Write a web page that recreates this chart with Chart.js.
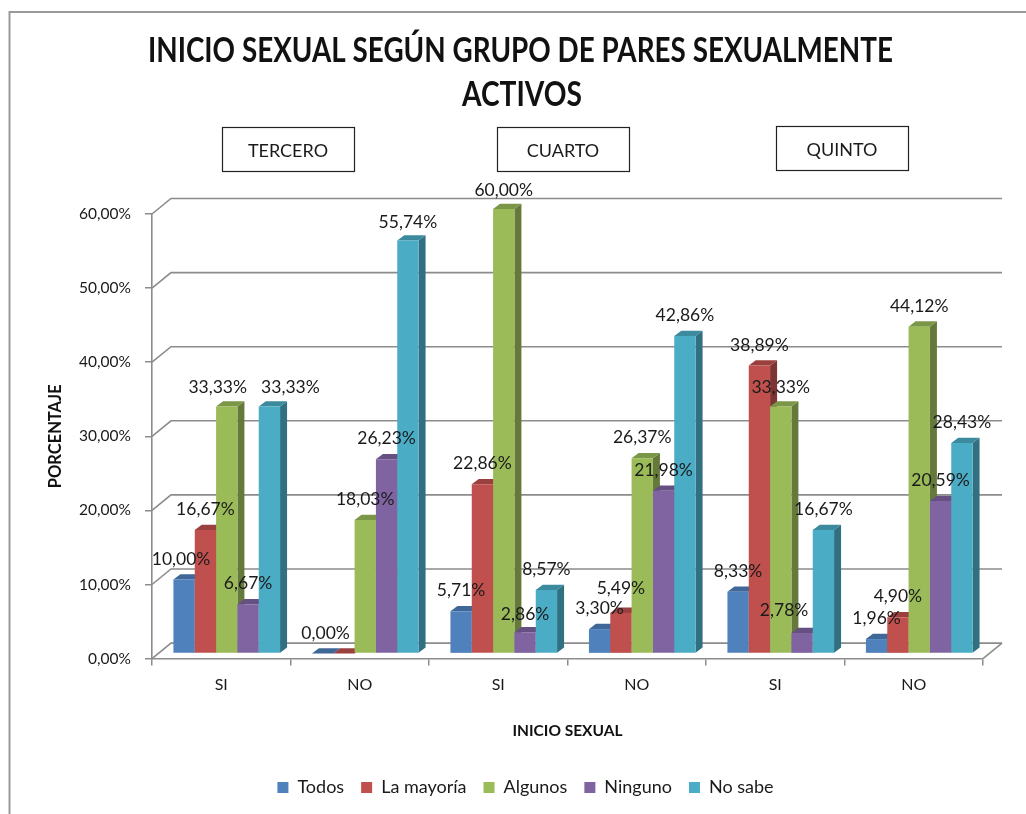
<!DOCTYPE html>
<html lang="es">
<head>
<meta charset="utf-8">
<title>Inicio sexual según grupo de pares sexualmente activos</title>
<style>
html,body{margin:0;padding:0;background:#fff;}
#wrap{position:absolute;left:0;top:0;width:1026px;height:814px;}
canvas{display:block;filter:blur(0.35px);}
</style>
<script src="https://cdn.jsdelivr.net/npm/chart.js@4/dist/chart.umd.min.js"></script>
</head>
<body>
<div id="wrap"><canvas id="c" width="1026" height="814"></canvas></div>
<script>
const categories = ["SI", "NO", "SI", "NO", "SI", "NO"];
const todos     = [10.00, 0.00, 5.71, 3.30, 8.33, 1.96];
const laMayoria = [16.67, 0.00, 22.86, 5.49, 38.89, 4.90];
const algunos   = [33.33, 18.03, 60.00, 26.37, 33.33, 44.12];
const ninguno   = [6.67, 26.23, 2.86, 21.98, 2.78, 20.59];
const noSabe    = [33.33, 55.74, 8.57, 42.86, 16.67, 28.43];
const seriesNames = ["Todos", "La mayoría", "Algunos", "Ninguno", "No sabe"];
const seriesValues = [todos, laMayoria, algunos, ninguno, noSabe];
const seriesColors = ["#4F81BD", "#C0504D", "#9BBB59", "#8064A2", "#4BACC6"];
const gradeLabels = ["TERCERO", "CUARTO", "QUINTO"];
const titleLines = ["INICIO SEXUAL SEGÚN GRUPO DE PARES SEXUALMENTE", "ACTIVOS"];
const xTitle = "INICIO SEXUAL";
const yTitle = "PORCENTAJE";

// Label nudges in px from the default place (series, category, dx, dy)
const labelNudges = [
  [0,0,-3,0],[2,0,-9,1],[4,0,21,1],[0,1,3,0],[3,4,-18,-2],
  [1,3,0,-4],[2,2,0,2],[4,1,0,2],[3,2,0,2],[2,4,0,1]
];

const FONT = "Lato, Carlito, Calibri, sans-serif";
const fmt = v => v.toFixed(2).replace(".", ",") + "%";
const shade = (hex, f) => {
  const n = parseInt(hex.slice(1), 16);
  const c = [n >> 16, (n >> 8) & 255, n & 255].map(x => Math.round(x * f));
  return `rgb(${c[0]},${c[1]},${c[2]})`;
};
const BAR_DX = 5.5, BAR_DY = -5, SIDE_DX = 7, SIDE_DY = 5.3;
const WALL_DX = 19, WALL_DY = -15.5;
const GRID = "#8c8c8c";

const plugin3d = {
  id: "plugin3d",
  afterLayout(chart) {
    chart.legend.left += 34; chart.legend.right += 34;
    const h = chart.legend.height;
    chart.legend.top = 761.4; chart.legend.bottom = 761.4 + h;
  },
  beforeDraw(chart) {
    const ctx = chart.ctx;
    ctx.save();
    // outer frame
    ctx.strokeStyle = "#999"; ctx.lineWidth = 2;
    ctx.beginPath(); ctx.moveTo(1026, 12); ctx.lineTo(9.5, 12); ctx.lineTo(9.5, 814); ctx.stroke();
    // main title, condensed to the reference's width
    ctx.fillStyle = "#111"; ctx.font = "bold 35px " + FONT;
    ctx.textAlign = "center"; ctx.textBaseline = "middle";
    ctx.fillText(titleLines[0], 520.5, 51, 745);
    ctx.fillText(titleLines[1], 522, 95, 120);
    // grade boxes
    const boxes = [[222, 127], [497, 127], [776, 126]];
    gradeLabels.forEach((t, i) => {
      const [x, y] = boxes[i];
      ctx.strokeStyle = "#222"; ctx.lineWidth = 1.2;
      ctx.strokeRect(x + .5, y + .5, 132, 44);
      ctx.fillStyle = "#1a1a1a"; ctx.font = "18px " + FONT;
      ctx.fillText(t, x + 66, y + 24);
    });
    ctx.restore();
  },
  beforeDatasetsDraw(chart) {
    const ctx = chart.ctx, ya = chart.scales.y, a = chart.chartArea;
    ctx.save();
    ctx.strokeStyle = GRID; ctx.lineWidth = 1.6;
    ya.ticks.forEach(t => {
      const y = ya.getPixelForValue(t.value);
      ctx.beginPath();
      ctx.moveTo(a.left, y);
      ctx.lineTo(a.left + WALL_DX, y + WALL_DY);
      ctx.lineTo(a.right + WALL_DX, y + WALL_DY);
      ctx.stroke();
    });
    // floor right edge
    ctx.beginPath();
    ctx.moveTo(a.right, a.bottom);
    ctx.lineTo(a.right + WALL_DX, a.bottom + WALL_DY);
    ctx.stroke();
    // 3D bars, painted left to right using the library's own bar elements
    ctx.translate(BAR_DX, BAR_DY);
    const n = categories.length;
    for (let c = 0; c < n; c++) {
      seriesValues.forEach((_, s) => {
        const el = chart.getDatasetMeta(s).data[c];
        const p = el.getProps(["x", "y", "base", "width"], true);
        const l = p.x - p.width / 2, r = p.x + p.width / 2;
        ctx.fillStyle = shade(seriesColors[s], 0.65);
        ctx.beginPath();
        ctx.moveTo(r, p.y); ctx.lineTo(r + SIDE_DX, p.y - SIDE_DY);
        ctx.lineTo(r + SIDE_DX, p.base - SIDE_DY); ctx.lineTo(r, p.base);
        ctx.closePath(); ctx.fill();
        ctx.fillStyle = shade(seriesColors[s], 0.8);
        ctx.beginPath();
        ctx.moveTo(l, p.y); ctx.lineTo(l + SIDE_DX, p.y - SIDE_DY);
        ctx.lineTo(r + SIDE_DX, p.y - SIDE_DY); ctx.lineTo(r, p.y);
        ctx.closePath(); ctx.fill();
        el.draw(ctx);
      });
    }
    ctx.restore();
  },
  beforeDatasetDraw() { return false; },
  afterDatasetsDraw(chart) {
    const ctx = chart.ctx;
    ctx.save();
    ctx.fillStyle = "#1a1a1a";
    ctx.font = "17.5px " + FONT;
    ctx.textAlign = "center"; ctx.textBaseline = "middle";
    seriesValues.forEach((vals, s) => {
      const meta = chart.getDatasetMeta(s);
      vals.forEach((v, c) => {
        if (v === 0 && s > 0) return; // the two 0,00% labels coincide
        const nudge = labelNudges.find(q => q[0] === s && q[1] === c);
        const el = meta.data[c];
        ctx.fillText(fmt(v), el.x + BAR_DX + (nudge ? nudge[2] : 0), el.y + BAR_DY - 20.5 + (nudge ? nudge[3] : 0));
      });
    });
    ctx.restore();
  }
};

new Chart(document.getElementById("c"), {
  type: "bar",
  data: {
    labels: categories,
    datasets: seriesValues.map((v, i) => ({
      label: seriesNames[i],
      data: v,
      backgroundColor: seriesColors[i],
      borderWidth: 0,
      categoryPercentage: 0.77,
      barPercentage: 1
    }))
  },
  options: {
    responsive: false,
    animation: false,
    events: [],
    layout: { padding: { left: 0, right: 43, top: 214, bottom: 0 } },
    plugins: {
      tooltip: { enabled: false },
      title: { display: false },
      legend: {
        position: "bottom",
        labels: {
          color: "#1a1a1a",
          boxWidth: 11, boxHeight: 11,
          padding: 17,
          font: { family: FONT, size: 18 }
        }
      }
    },
    scales: {
      x: {
        afterFit: s => { s.height = 110.4; },
        grid: { drawOnChartArea: false, tickLength: 7, color: GRID, lineWidth: 1.5, offset: true },
        border: { color: GRID, width: 1.6 },
        ticks: { color: "#1a1a1a", font: { family: FONT, size: 16 }, padding: 10, maxRotation: 0, autoSkip: false },
        title: {
          display: true, text: xTitle, color: "#111",
          font: { family: FONT, size: 15.5, weight: "bold" },
          padding: { top: 0, bottom: 29 }
        }
      },
      y: {
        min: 0, max: 60,
        afterFit: s => { s.width = 152; },
        grid: { drawOnChartArea: false, tickLength: 7, color: GRID, lineWidth: 1.5 },
        border: { color: GRID, width: 1.6 },
        ticks: { stepSize: 10, color: "#1a1a1a", font: { family: FONT, size: 15.5 }, padding: 14, callback: v => fmt(v) },
        title: {
          display: true, text: yTitle, color: "#111",
          font: { family: FONT, size: 16.5, weight: "bold" },
          padding: { top: 46, bottom: 0 }
        }
      }
    }
  },
  plugins: [plugin3d]
});
</script>
</body>
</html>
